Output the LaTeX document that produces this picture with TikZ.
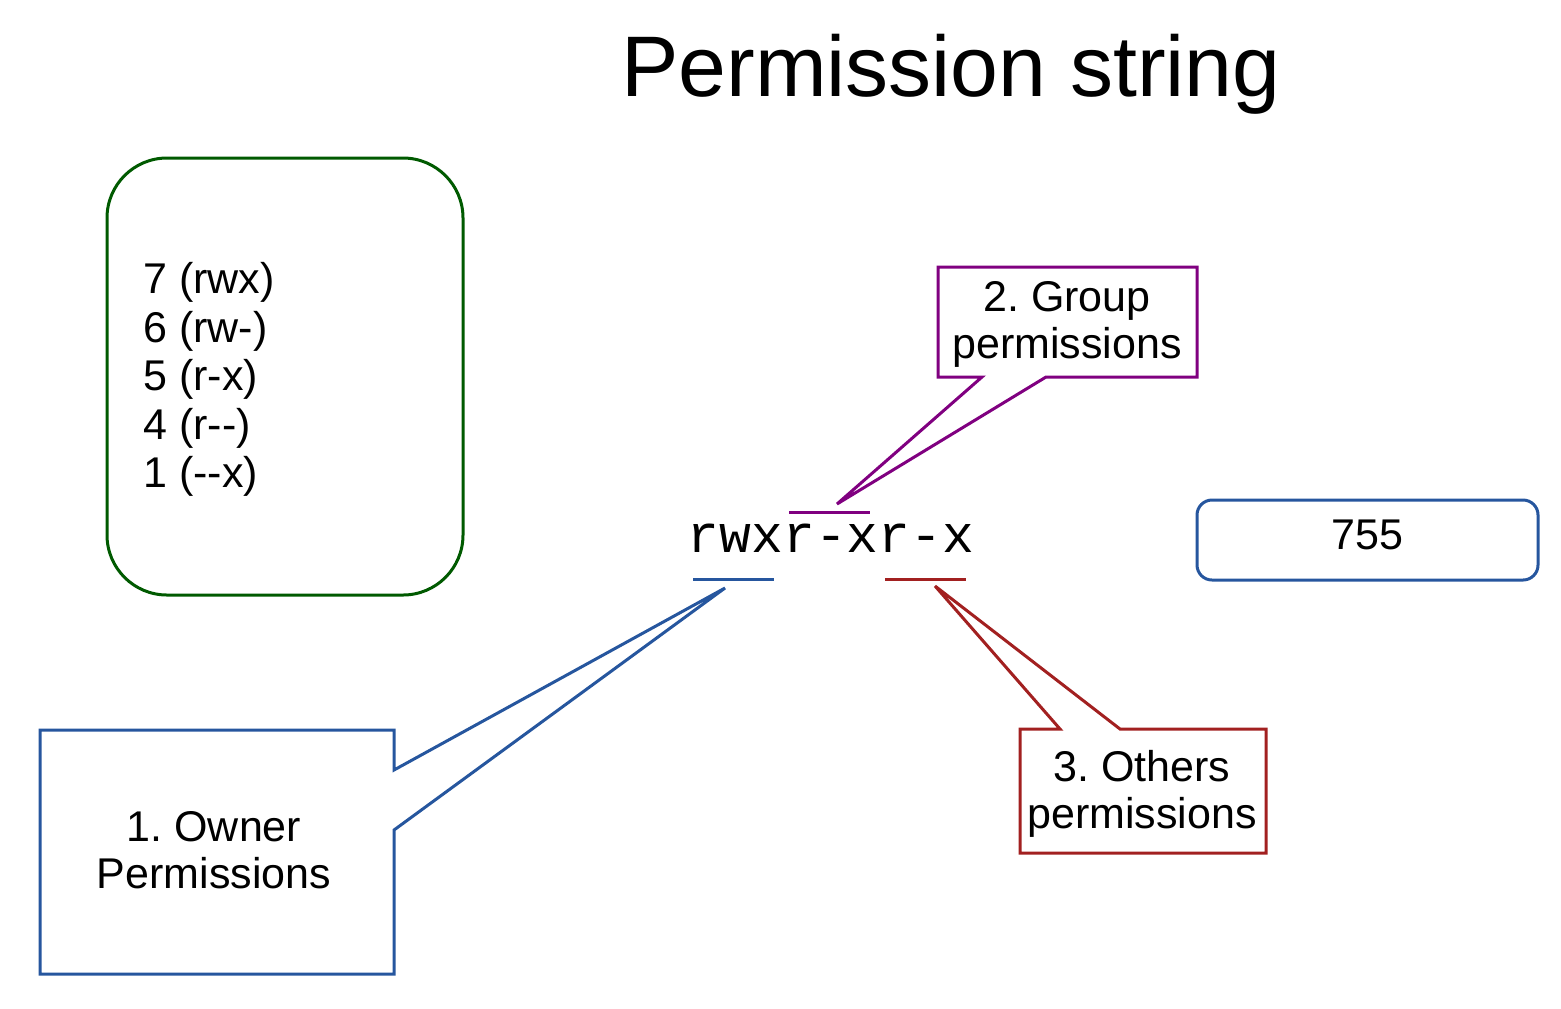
\documentclass[tikz,border=0pt]{standalone}
\usepackage{fontspec}
\newfontfamily\permsans{Liberation Sans}
\newfontfamily\permmono{Liberation Mono}
\usetikzlibrary{positioning}
\frenchspacing

\definecolor{octgreen}{RGB}{0,90,0}
\definecolor{ownblue}{RGB}{38,86,158}
\definecolor{grppurple}{RGB}{128,0,128}
\definecolor{othred}{RGB}{162,32,32}

\begin{document}
\begin{tikzpicture}[x=0.5pt,y=-0.5pt,font=\permsans]
            \tikzstyle{frame}=[line width=1.5pt]
            \tikzstyle{callout text}=[inner sep=0pt, anchor=north, align=center, font=\permsans\fontsize{21.5}{23.5}\selectfont]

            \useasboundingbox (0,0) rectangle (1561,1008);

            \node[anchor=base, inner sep=0pt, font=\permsans\fontsize{43}{52}\selectfont] (title) at (951,96) {Permission string};

            % octal values
            \node[frame, draw=octgreen, rounded corners=30pt, minimum width=178pt, minimum height=218.5pt] (octbox) at (285,376.5) {};
            \node[anchor=north west, inner sep=0pt, align=left, font=\permsans\fontsize{21.5}{24.25}\selectfont] (octlist) at (143,262) {7 (rwx)\\6 (rw-)\\5 (r-x)\\4 (r--)\\1 (--x)};

            \node[anchor=base, inner sep=0pt, font=\permmono\fontsize{26.5}{30}\selectfont] (perm) at (831,552) {rwxr-xr-x};

            \node[frame, draw=ownblue, rounded corners=7.5pt, minimum width=170.5pt, minimum height=40pt, text depth=5.4pt, font=\permsans\fontsize{21.5}{24}\selectfont] (octal) at (1367.5,540) {755};

            % underlines
            \draw[frame, ownblue]   (693,579) -- (774,579);
            \draw[frame, grppurple] (789,512) -- (870,512);
            \draw[frame, othred]    (885,579) -- (966,579);

            % callouts
            \coordinate (owntip) at (725,588);
            \coordinate (grptip) at (837,504);
            \coordinate (othtip) at (935,586);

            \draw[frame, ownblue] (40,730) -- (394,730) -- (394,770) -- (owntip) -- (394,830) -- (394,974) -- (40,974) -- cycle;
            \draw[frame, grppurple] (938,267) -- (1197,267) -- (1197,377) -- (1046,377) -- (grptip) -- (982,377) -- (938,377) -- cycle;
            \draw[frame, othred] (1020,729) -- (1060,729) -- (othtip) -- (1120,729) -- (1266,729) -- (1266,853) -- (1020,853) -- cycle;

            \node[callout text] (owner)  at (214,811.5)  {1. Owner\\Permissions};
            \node[callout text] (group)  at (1067,281.5) {2. Group\\permissions};
            \node[callout text] (others) at (1142,749.5) {3. Others\\permissions};
        \end{tikzpicture}
\end{document}
